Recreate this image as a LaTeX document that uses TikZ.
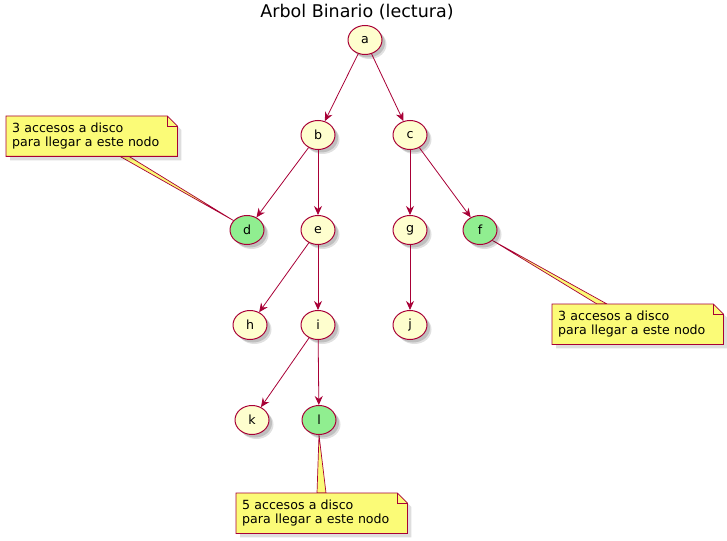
\documentclass[tikz,border=0pt]{standalone}
\usepackage{fontspec}
\setmainfont{DejaVu Sans}
\usetikzlibrary{arrows.meta,shapes.geometric,calc}
\pgfdeclarelayer{back}
\pgfsetlayers{back,main}
\definecolor{umlborder}{HTML}{A80036}
\definecolor{umlfill}{HTML}{FEFECE}
\definecolor{umlnote}{HTML}{FBFB77}
\definecolor{umlgreen}{HTML}{90EE90}
\tikzset{
  softshadow/.style={preaction={fill=black,opacity=0.12,transform canvas={shift={(4.5pt,-4.5pt)}}},
                     preaction={fill=black,opacity=0.15,transform canvas={shift={(3pt,-3pt)}}}},
  elem/.style={ellipse,draw=umlborder,fill=umlfill,line width=1pt,minimum width=34pt,minimum height=29pt,
               inner sep=0pt,font=\fontsize{12.6}{15}\selectfont,softshadow},
  leaf/.style={elem,fill=umlgreen},
  edge/.style={draw=umlborder,line width=0.8pt,-{Stealth[length=9pt,width=8pt,inset=3pt]}},
  notetext/.style={anchor=north west,inner xsep=6pt,inner ysep=0pt,text width=159pt,align=left,
                   minimum height=40pt,font=\fontsize{12.6}{14.5}\selectfont},
  noteshape/.style={fill=umlnote,draw=umlborder,line width=0.8pt,line join=miter},
  wedge/.style={fill=umlnote,draw=umlborder,line width=0.7pt,line join=round},
}
\newcommand{\notebox}[1]{%
  \path[fill=black,opacity=0.13] ($(#1.north west)+(4,4)$) -- ($(#1.north east)+(-6,4)$) -- ($(#1.north east)+(4,14)$)
     -- ($(#1.south east)+(4,4)$) -- ($(#1.south west)+(4,4)$) -- cycle;
  \path[noteshape] (#1.north west) -- ($(#1.north east)+(-10,0)$) -- ($(#1.north east)+(0,10)$)
     -- (#1.south east) -- (#1.south west) -- cycle;
  \draw[umlborder,line width=0.8pt] ($(#1.north east)+(-10,0)$) -- ($(#1.north east)+(-10,10)$) -- ($(#1.north east)+(0,10)$);
}
\begin{document}
\begin{tikzpicture}[x=1pt,y=-1pt]
\useasboundingbox (0,0) rectangle (727,540);
\node[font=\fontsize{17.5}{20}\selectfont] (title) at (357,12) {Arbol Binario (lectura)};

% notes
\node[notetext] (n1) at (6,116) {3 accesos a disco\\para llegar a este nodo};
\node[notetext] (n2) at (552,304) {3 accesos a disco\\para llegar a este nodo};
\node[notetext] (n3) at (236,493) {5 accesos a disco\\para llegar a este nodo};

% tree nodes
\node[elem] (a) at (365,40) {a};
\node[elem] (b) at (318,135) {b};
\node[elem] (c) at (410,135) {c};
\node[leaf] (d) at (247,230) {d};
\node[elem] (e) at (318,230) {e};
\node[elem] (g) at (410,230) {g};
\node[leaf] (f) at (480,230) {f};
\node[elem] (h) at (250,325) {h};
\node[elem] (i) at (318,325) {i};
\node[elem] (j) at (410,325) {j};
\node[elem] (k) at (252,420) {k};
\node[leaf] (l) at (319,420) {l};

\begin{pgfonlayer}{back}
% wedges from notes to nodes
\path[wedge] ($(n1.south west)+(114,0)$) -- (d.145) -- ($(n1.south west)+(123,0)$) -- cycle;
\path[wedge] ($(n2.north west)+(45,0)$) -- (f.-40) -- ($(n2.north west)+(55,0)$) -- cycle;
\path[wedge] ($(n3.north west)+(81,0)$) -- (l.south) -- ($(n3.north west)+(90,0)$) -- cycle;
\notebox{n1}
\notebox{n2}
\notebox{n3}
\end{pgfonlayer}

% edges
\draw[edge] (a) -- (b);
\draw[edge] (a) -- (c);
\draw[edge] (b) -- (d);
\draw[edge] (b) -- (e);
\draw[edge] (c) -- (g);
\draw[edge] (c) -- (f);
\draw[edge] (e) -- (h);
\draw[edge] (e) -- (i);
\draw[edge] (g) -- (j);
\draw[edge] (i) -- (k);
\draw[edge] (i) -- (l);
\end{tikzpicture}
\end{document}
